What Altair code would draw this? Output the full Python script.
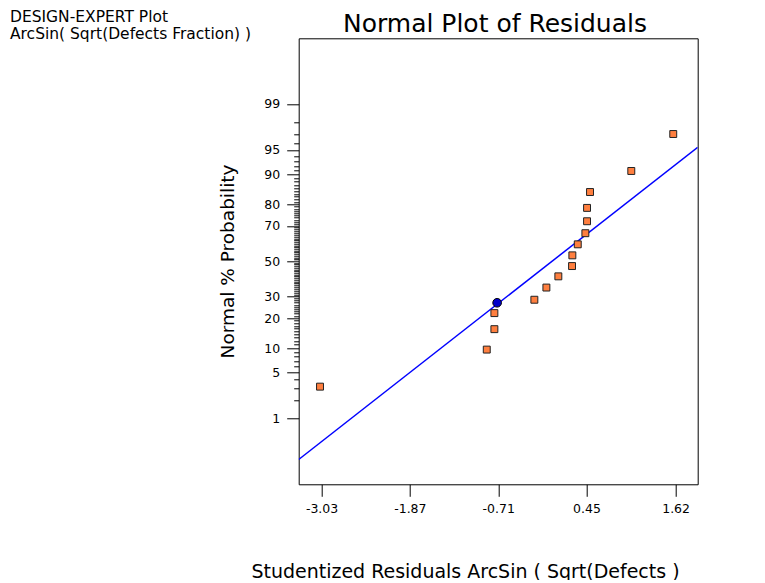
import altair as alt
import pandas as pd
from statistics import NormalDist

# ---- data ----
resid = [-3.05, -0.86, -0.76, -0.76, -0.235, -0.077, 0.080, 0.260, 0.264,
         0.335, 0.435, 0.457, 0.457, 0.496, 1.038, 1.589]
prob = [3.2, 9.6, 15.8, 22.2, 28.5, 34.9, 41.2, 47.2, 53.5,
        59.9, 66.1, 72.3, 78.5, 84.7, 90.9, 97.0]
sel_resid = [-0.724]
sel_prob = [27.0]
line_resid = [-3.33, 1.91]
line_prob = [0.17, 95.4]
x_ticks = [-3.03, -1.87, -0.71, 0.45, 1.62]
y_major = [1, 5, 10, 20, 30, 50, 70, 80, 90, 95, 99]
y_minor = list(range(1, 100))
x_domain = [-3.33, 1.91]
z_lim = 3.295

header_lines = "DESIGN-EXPERT Plot\nArcSin( Sqrt(Defects Fraction) )"
title_text = "Normal Plot of Residuals"
x_title = "Studentized Residuals ArcSin ( Sqrt(Defects )"
y_title = "Normal % Probability"

FONT = "DejaVu Sans"

pts = pd.DataFrame({"r": resid, "p": prob})
sel = pd.DataFrame({"r": sel_resid, "p": sel_prob})
fit = pd.DataFrame({"r": line_resid, "p": line_prob})
hdr = pd.DataFrame({"t": [header_lines]})
ttl = pd.DataFrame({"t": [title_text]})

nd = NormalDist()
y_vals = [nd.inv_cdf(v / 100.0) for v in y_minor]
major_str = "[" + ",".join(str(v) for v in y_major) + "]"
pct = "round(cumulativeNormal(datum.value)*100)"
is_major = f"indexof({major_str}, {pct}) >= 0"

x_axis = alt.Axis(
    values=x_ticks, labelExpr="replace(format(datum.value, '.2f'), '\u2212', '-')",
    tickSize=12, labelPadding=6, labelFont=FONT, labelFontSize=12.5,
    labelColor="black", tickColor="black", domain=False, grid=False,
    title=x_title, titleFont=FONT, titleFontSize=19, titleFontWeight="normal",
    titleColor="black", titleX=166.3, titleY=93, titleBaseline="alphabetic",
    titleAlign="center", titleAnchor="start", labelFlush=False,
)
y_axis = alt.Axis(
    values=y_vals, labelExpr=f"{is_major} ? format({pct}, 'd') : ''",
    tickSize={"condition": {"test": is_major, "value": 12}, "value": 5},
    labelPadding=7, labelFont=FONT, labelFontSize=12.5, labelColor="black",
    tickColor="black", domain=False, grid=False, labelOverlap=False,
    labelFlush=False, title=y_title, titleFont=FONT, titleFontSize=18.5,
    titleFontWeight="normal", titleColor="black", titleAngle=270,
    titleX=-64.7, titleY=222.7, titleBaseline="alphabetic", titleAlign="center",
    titleAnchor="start",
)

xs = alt.Scale(domain=x_domain, nice=False, zero=False)
ys = alt.Scale(domain=[-z_lim, z_lim], nice=False, zero=False)

def enc(ch):
    return ch.encode(
        x=alt.X("r:Q", scale=xs, axis=x_axis),
        y=alt.Y("z:Q", scale=ys, axis=y_axis),
    )

line = enc(alt.Chart(fit).transform_calculate(z="quantileNormal(datum.p/100)")
           .mark_line(color="#0000FF", strokeWidth=1.5, clip=True))
squares = enc(alt.Chart(pts).transform_calculate(z="quantileNormal(datum.p/100)")
              .mark_square(size=48, fill="#FF7F3F", stroke="#222222",
                           strokeWidth=1, opacity=1))
circle = enc(alt.Chart(sel).transform_calculate(z="quantileNormal(datum.p/100)")
             .mark_point(shape="circle", size=75, filled=True, fill="#0000CC",
                         stroke="black", strokeWidth=1, opacity=1))
header = alt.Chart(hdr).mark_text(
    align="left", baseline="alphabetic", font=FONT, fontSize=15.5,
    lineBreak="\n", lineHeight=16.5, color="black",
).encode(text="t:N", x=alt.value(-288.7), y=alt.value(-16))
title = alt.Chart(ttl).mark_text(
    align="center", baseline="alphabetic", font=FONT, fontSize=25,
    color="black",
).encode(text="t:N", x=alt.value(196.3), y=alt.value(-6.6))

chart = alt.layer(line, squares, circle, header, title).properties(
    width=399, height=446,
    autosize=alt.AutoSizeParams(type="none"),
    padding={"left": 290.7, "top": 30.3, "right": 50, "bottom": 96},
).configure_view(stroke="black", strokeWidth=1)

chart.save("out.html", embed_options={"renderer": "svg", "actions": False})
